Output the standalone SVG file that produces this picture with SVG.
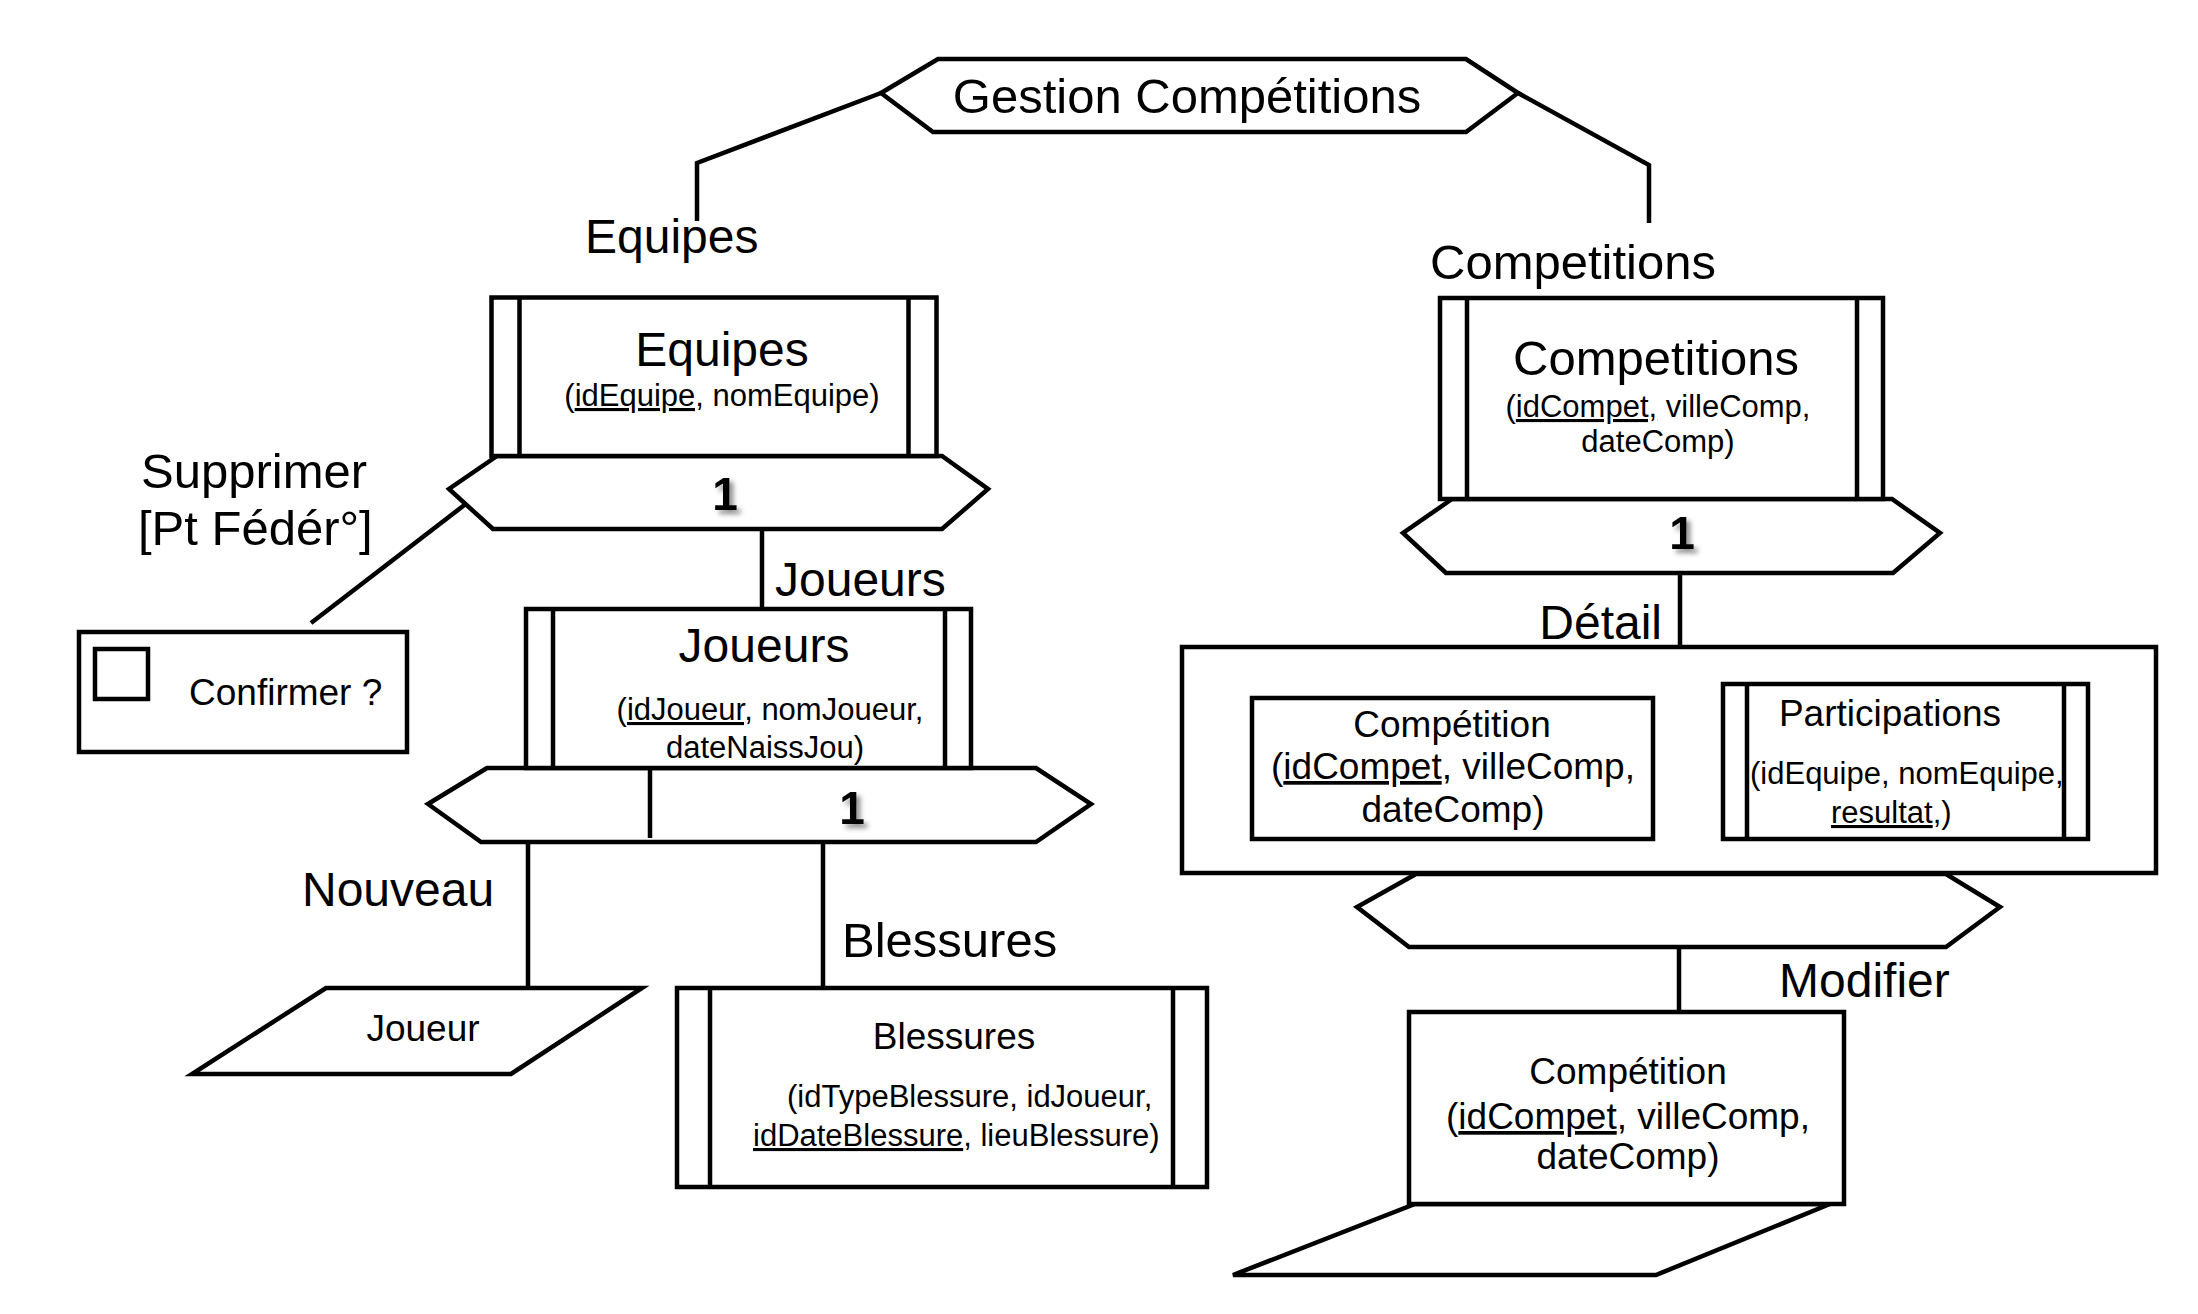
<svg xmlns="http://www.w3.org/2000/svg" width="2198" height="1314" viewBox="0 0 2198 1314">
<style>
.s{fill:#fff;stroke:#000;stroke-width:4.5;stroke-linejoin:miter}
.l{fill:none;stroke:#000;stroke-width:4.5}
text{font-family:"Liberation Sans",Arial,Helvetica,sans-serif;fill:#000}
.big{font-size:48px}
.big2{font-size:49px}
.mid{font-size:37px}
.sm{font-size:31px}
.one{font-size:46px;font-weight:bold}
</style>
<defs>
<filter id="sh" x="-50%" y="-50%" width="200%" height="200%">
<feDropShadow dx="4" dy="4" stdDeviation="2.5" flood-color="#000" flood-opacity="0.45"/>
</filter>
</defs>
<rect width="2198" height="1314" fill="#fff"/>

<g id="connectors">
<polyline class="l" points="881,93 697,163 697,221"/>
<polyline class="l" points="1518,93 1649,165 1649,223"/>
<line class="l" x1="467" y1="503" x2="311" y2="623"/>
<line class="l" x1="762" y1="529" x2="762" y2="609"/>
<line class="l" x1="528" y1="842" x2="528" y2="988"/>
<line class="l" x1="823" y1="842" x2="823" y2="988"/>
<line class="l" x1="1680" y1="573" x2="1680" y2="647"/>
<line class="l" x1="1679" y1="947" x2="1679" y2="1012"/>
</g>

<g id="labels">
<text class="big" x="585" y="253">Equipes</text>
<text class="big2" x="1430" y="279">Competitions</text>
<text class="big2" x="141" y="488">Supprimer</text>
<text class="big2" x="138" y="545">[Pt Fédér°]</text>
<text class="big" x="775" y="596">Joueurs</text>
<text class="big" x="302" y="906">Nouveau</text>
<text class="big2" x="842" y="957">Blessures</text>
<text class="big" x="1662" y="639" text-anchor="end">Détail</text>
<text class="big" x="1779" y="997">Modifier</text>
</g>

<g id="gestion">
<polygon class="s" points="881,93 938,59 1466,59 1518,93 1466,132 933,132"/>
<text class="big2" x="1187" y="113" text-anchor="middle">Gestion Compétitions</text>
</g>

<g id="equipes">
<polygon class="s" points="497,456 449,489 493,529 942,529 988,489 942,456"/>
<rect class="s" x="491.5" y="297.5" width="445" height="158.5"/>
<line class="l" x1="519.5" y1="297.5" x2="519.5" y2="456"/>
<line class="l" x1="908.5" y1="297.5" x2="908.5" y2="456"/>
<text class="big" x="722" y="366" text-anchor="middle">Equipes</text>
<text class="sm" x="722" y="406" text-anchor="middle">(<tspan text-decoration="underline">idEquipe,</tspan> nomEquipe)</text>
<text class="one" x="725" y="510" text-anchor="middle" filter="url(#sh)">1</text>
</g>

<g id="confirmer">
<rect class="s" x="79" y="632" width="328" height="120"/>
<rect class="s" x="95" y="649" width="53" height="50"/>
<text class="mid" x="189" y="705">Confirmer ?</text>
</g>

<g id="joueurs">
<polygon class="s" points="487,768 428,804 481,842 1036,842 1091,804 1036,768"/>
<line class="l" x1="650" y1="768" x2="650" y2="838"/>
<rect class="s" x="526" y="609" width="445" height="159"/>
<line class="l" x1="553" y1="609" x2="553" y2="768"/>
<line class="l" x1="945" y1="609" x2="945" y2="768"/>
<text class="big" x="764" y="662" text-anchor="middle">Joueurs</text>
<text class="sm" x="770" y="720" text-anchor="middle">(<tspan text-decoration="underline">idJoueur,</tspan> nomJoueur,</text>
<text class="sm" x="765" y="758" text-anchor="middle">dateNaissJou)</text>
<text class="one" x="852" y="824" text-anchor="middle" filter="url(#sh)">1</text>
</g>

<g id="joueur">
<polygon class="s" points="326,988 642,988 511,1074 192,1074"/>
<text class="mid" x="423" y="1041" text-anchor="middle">Joueur</text>
</g>

<g id="blessures">
<rect class="s" x="677" y="988" width="530" height="199"/>
<line class="l" x1="710" y1="988" x2="710" y2="1187"/>
<line class="l" x1="1173" y1="988" x2="1173" y2="1187"/>
<text class="mid" x="954" y="1049" text-anchor="middle">Blessures</text>
<text class="sm" x="787" y="1107">(idTypeBlessure, idJoueur,</text>
<text class="sm" x="753" y="1146"><tspan text-decoration="underline">idDateBlessure</tspan>, lieuBlessure)</text>
</g>

<g id="competitions">
<polygon class="s" points="1452,499 1403,533 1446,573 1893,573 1940,533 1892,499"/>
<rect class="s" x="1440" y="298" width="443" height="201"/>
<line class="l" x1="1467" y1="298" x2="1467" y2="499"/>
<line class="l" x1="1857" y1="298" x2="1857" y2="499"/>
<text class="big2" x="1656" y="375" text-anchor="middle">Competitions</text>
<text class="sm" x="1658" y="417" text-anchor="middle">(<tspan text-decoration="underline">idCompet,</tspan> villeComp,</text>
<text class="sm" x="1658" y="452" text-anchor="middle">dateComp)</text>
<text class="one" x="1682" y="549" text-anchor="middle" filter="url(#sh)">1</text>
</g>

<g id="detail">
<polygon class="s" points="1416,874 1357,907 1409,947 1946,947 2000,907 1946,874"/>
<rect class="s" x="1182" y="647" width="974" height="226"/>
</g>

<g id="competition-detail">
<rect class="s" x="1252" y="698" width="401" height="141"/>
<text class="mid" x="1452" y="737" text-anchor="middle">Compétition</text>
<text class="mid" x="1453" y="779" text-anchor="middle">(<tspan text-decoration="underline">idCompet</tspan>, villeComp,</text>
<text class="mid" x="1453" y="822" text-anchor="middle">dateComp)</text>
</g>

<g id="participations">
<rect class="s" x="1723" y="684" width="365" height="155"/>
<line class="l" x1="1747" y1="684" x2="1747" y2="839"/>
<line class="l" x1="2064" y1="684" x2="2064" y2="839"/>
<text class="mid" x="1890" y="726" text-anchor="middle">Participations</text>
<text class="sm" x="1750" y="784">(idEquipe, nomEquipe,</text>
<text class="sm" x="1831" y="823"><tspan text-decoration="underline">resultat</tspan>,)</text>
</g>

<g id="competition-modifier">
<polygon class="s" points="1415,1204 1830,1204 1656,1275 1233,1275"/>
<rect class="s" x="1409" y="1012" width="435" height="192"/>
<text class="mid" x="1628" y="1084" text-anchor="middle">Compétition</text>
<text class="mid" x="1628" y="1129" text-anchor="middle">(<tspan text-decoration="underline">idCompet</tspan>, villeComp,</text>
<text class="mid" x="1628" y="1169" text-anchor="middle">dateComp)</text>
</g>
</svg>
